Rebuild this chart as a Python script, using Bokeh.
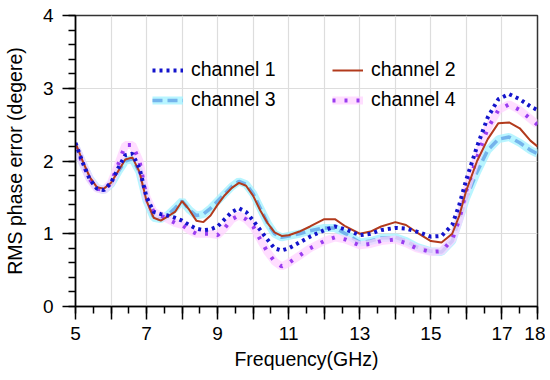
from bokeh.plotting import figure
from bokeh.models import FixedTicker, Legend, LegendItem, Range1d
from bokeh.embed import file_html
from bokeh.resources import INLINE

freq = [5.0, 5.2, 5.4, 5.6, 5.8, 6.0, 6.2, 6.4, 6.6, 6.8, 7.0, 7.2, 7.4, 7.6, 7.8,
        8.0, 8.2, 8.4, 8.6, 8.8, 9.0, 9.2, 9.4, 9.6, 9.8, 10.0, 10.2, 10.4, 10.6,
        10.8, 11.0, 11.3, 11.6, 12.0, 12.3, 12.6, 13.0, 13.3, 13.6, 14.0, 14.3,
        14.6, 15.0, 15.3, 15.6, 15.8, 16.0, 16.3, 16.6, 16.9, 17.2, 17.5, 17.8, 18.0]

channel1 = [2.25, 1.98, 1.75, 1.62, 1.60, 1.70, 1.90, 2.08, 2.10, 1.90, 1.50, 1.30,
            1.27, 1.25, 1.22, 1.18, 1.12, 1.07, 1.05, 1.06, 1.10, 1.20, 1.30, 1.35,
            1.30, 1.18, 1.05, 0.92, 0.80, 0.77, 0.80, 0.88, 0.96, 1.05, 1.10, 1.06,
            0.98, 1.00, 1.05, 1.08, 1.07, 1.03, 0.96, 0.97, 1.12, 1.40, 1.75, 2.20,
            2.60, 2.85, 2.92, 2.85, 2.75, 2.70]

channel2 = [2.25, 2.00, 1.78, 1.64, 1.62, 1.70, 1.86, 2.02, 2.05, 1.85, 1.45, 1.22,
            1.18, 1.24, 1.30, 1.45, 1.33, 1.18, 1.16, 1.25, 1.40, 1.53, 1.63, 1.70,
            1.66, 1.52, 1.32, 1.15, 1.02, 0.97, 0.98, 1.03, 1.10, 1.20, 1.20, 1.10,
            1.00, 1.03, 1.10, 1.16, 1.12, 1.02, 0.90, 0.88, 1.00, 1.25, 1.60, 2.00,
            2.30, 2.52, 2.53, 2.45, 2.28, 2.20]

channel3 = [2.20, 1.97, 1.76, 1.63, 1.60, 1.68, 1.85, 2.00, 2.03, 1.85, 1.45, 1.22,
            1.20, 1.26, 1.35, 1.45, 1.33, 1.25, 1.27, 1.35, 1.45, 1.55, 1.65, 1.72,
            1.68, 1.55, 1.35, 1.15, 1.00, 0.95, 0.97, 1.00, 1.04, 1.08, 1.08, 1.00,
            0.88, 0.90, 0.94, 0.95, 0.90, 0.82, 0.76, 0.75, 0.90, 1.20, 1.50, 1.85,
            2.15, 2.30, 2.33, 2.25, 2.15, 2.10]

channel4 = [2.20, 1.97, 1.75, 1.62, 1.60, 1.70, 1.95, 2.22, 2.22, 2.00, 1.50, 1.30,
            1.25, 1.20, 1.15, 1.12, 1.05, 1.00, 1.00, 1.00, 0.98, 1.08, 1.20, 1.25,
            1.20, 1.10, 0.92, 0.75, 0.62, 0.55, 0.60, 0.70, 0.80, 0.90, 0.95, 0.92,
            0.84, 0.86, 0.90, 0.92, 0.87, 0.80, 0.75, 0.76, 0.92, 1.20, 1.60, 2.05,
            2.45, 2.70, 2.78, 2.70, 2.58, 2.50]

x_ticks = list(range(5, 19))
x_labels = {5: "5", 7: "7", 9: "9", 11: "11", 13: "13", 15: "15", 17: "17", 18: "18"}
y_ticks = [0, 1, 2, 3, 4]

FONT = "Liberation Sans"

p = figure(width=545, height=376, output_backend="svg", toolbar_location=None,
           x_range=Range1d(5, 18), y_range=Range1d(0, 4),
           min_border_left=72, min_border_right=8, min_border_top=15, min_border_bottom=70)
p.background_fill_color = "white"
p.border_fill_color = "white"
p.outline_line_color = "#333333"
p.outline_line_width = 1.5

# axes
p.xaxis.ticker = FixedTicker(ticks=x_ticks, minor_ticks=[5 + 0.5 * i for i in range(27)])
p.xaxis.major_label_overrides = {t: x_labels.get(t, "") for t in x_ticks}
p.yaxis.ticker = FixedTicker(ticks=y_ticks, minor_ticks=[0.2 * i for i in range(21)])
for ax in (p.xaxis[0], p.yaxis[0]):
    ax.axis_line_color = "black"
    ax.axis_line_width = 1.5
    ax.major_tick_line_color = "black"
    ax.major_tick_line_width = 1.5
    ax.minor_tick_line_color = "black"
    ax.minor_tick_line_width = 1.5
    ax.major_tick_in = 0
    ax.major_tick_out = 13
    ax.minor_tick_in = 0
    ax.minor_tick_out = 7
    ax.major_label_text_font = FONT
    ax.major_label_text_font_size = "19px"
    ax.major_label_text_color = "black"
    ax.axis_label_text_font = FONT
    ax.axis_label_text_font_size = "19.5px"
    ax.axis_label_text_font_style = "normal"
    ax.axis_label_text_color = "black"
p.xaxis.major_label_standoff = 7
p.yaxis.major_label_standoff = 9
p.xaxis.axis_label = "Frequency(GHz)"
p.yaxis.axis_label = "RMS phase error (degere)"
p.xaxis.axis_label_standoff = 5
p.yaxis.axis_label_standoff = 14

p.xgrid.grid_line_color = "#dddddd"
p.ygrid.grid_line_color = "#dddddd"
p.xgrid.grid_line_width = 1.2
p.ygrid.grid_line_width = 1.2

# series
g3 = p.line(freq, channel3, line_color="#a6f3ff", line_width=8, line_alpha=0.8)
r3 = p.line(freq, channel3, line_color="#74b4ec", line_width=3.5, line_dash="10 5")
g4 = p.line(freq, channel4, line_color="#ffd0ff", line_width=8, line_alpha=0.7)
r4 = p.line(freq, channel4, line_color="#9a3cf0", line_width=4, line_dash="3 9")
r2 = p.line(freq, channel2, line_color="#b23a1c", line_width=2)
r1 = p.line(freq, channel1, line_color="#1414cc", line_width=4, line_dash="3 4")

def make_legend(items, loc):
    lg = Legend(items=items, location=loc, orientation="vertical",
                background_fill_alpha=0, border_line_alpha=0,
                padding=0, margin=0, spacing=7,
                glyph_width=31, glyph_height=20, label_height=20,
                label_standoff=8, label_text_font=FONT,
                label_text_font_size="19.5px", label_text_color="black")
    return lg

leg1 = make_legend([LegendItem(label="channel 1", renderers=[r1]),
                    LegendItem(label="channel 3", renderers=[g3, r3])], (77, 195))
leg2 = make_legend([LegendItem(label="channel 2", renderers=[r2]),
                    LegendItem(label="channel 4", renderers=[g4, r4])], (257, 195))
p.add_layout(leg1, "center")
p.add_layout(leg2, "center")

open("out.html", "w").write(file_html(p, INLINE))
